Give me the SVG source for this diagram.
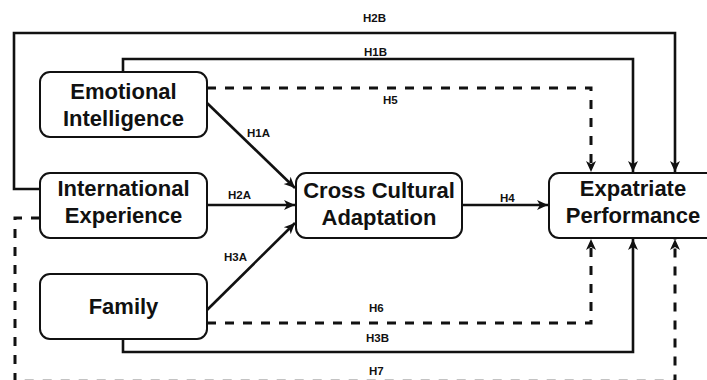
<svg xmlns="http://www.w3.org/2000/svg" width="707" height="380" viewBox="0 0 707 380">
<style>
.box{fill:#fff;stroke:#111;stroke-width:2}
.nt{font-family:"Liberation Sans",Arial,sans-serif;font-weight:bold;font-size:22px;fill:#111;text-anchor:middle}
.lb{font-family:"Liberation Sans",Arial,sans-serif;font-weight:bold;font-size:11.5px;fill:#111}
.c{fill:none;stroke:#111;stroke-width:2.6}
.d{fill:none;stroke:#111;stroke-width:3;stroke-dasharray:9 9}
</style>
<defs>
<marker id="ah" markerUnits="userSpaceOnUse" markerWidth="12" markerHeight="12" viewBox="0 0 12 12" refX="11" refY="6" orient="auto">
<path d="M0,1 L11,6 L0,11 L3,6 z" fill="#111"/>
</marker>
</defs>
<g id="connectors">
<path class="c" d="M40,189 H14 V33 H675 V172" marker-end="url(#ah)"/>
<path class="c" d="M123,72 V59 H633 V172" marker-end="url(#ah)"/>
<path class="d" d="M207,88 H591 V172" marker-end="url(#ah)"/>
<path class="c" d="M207,103 L295,188" marker-end="url(#ah)"/>
<path class="c" d="M207,205 H295" marker-end="url(#ah)"/>
<path class="c" d="M207,310 L295,223" marker-end="url(#ah)"/>
<path class="c" d="M462,205 H548" marker-end="url(#ah)"/>
<path class="d" d="M207,323 H591 V239" marker-end="url(#ah)"/>
<path class="c" d="M123,339 V352 H633 V239" marker-end="url(#ah)"/>
<path class="d" d="M40,218 H15 V381.3 H675 V239" marker-end="url(#ah)"/>
</g>
<g id="labels">
<text class="lb" x="363" y="22">H2B</text>
<text class="lb" x="364" y="56">H1B</text>
<text class="lb" x="383" y="104">H5</text>
<text class="lb" x="247" y="137">H1A</text>
<text class="lb" x="228" y="199">H2A</text>
<text class="lb" x="224" y="261">H3A</text>
<text class="lb" x="500" y="202">H4</text>
<text class="lb" x="369" y="312">H6</text>
<text class="lb" x="366" y="342">H3B</text>
<text class="lb" x="369" y="375">H7</text>
</g>
<g id="emotional-intelligence">
<rect class="box" x="40" y="72" width="167" height="65" rx="10"/>
<text class="nt" x="123.5" y="99">Emotional</text>
<text class="nt" x="123.5" y="126">Intelligence</text>
</g>
<g id="international-experience">
<rect class="box" x="40" y="173" width="167" height="65" rx="10"/>
<text class="nt" x="123.5" y="196">International</text>
<text class="nt" x="123.5" y="223">Experience</text>
</g>
<g id="family">
<rect class="box" x="40" y="274" width="167" height="65" rx="10"/>
<text class="nt" x="123.5" y="314">Family</text>
</g>
<g id="cross-cultural-adaptation">
<rect class="box" x="296" y="173" width="166" height="65" rx="10"/>
<text class="nt" x="379" y="198">Cross Cultural</text>
<text class="nt" x="379" y="225">Adaptation</text>
</g>
<g id="expatriate-performance">
<rect class="box" x="549" y="173" width="168" height="65" rx="10"/>
<text class="nt" x="633" y="196">Expatriate</text>
<text class="nt" x="633" y="223">Performance</text>
</g>
</svg>
